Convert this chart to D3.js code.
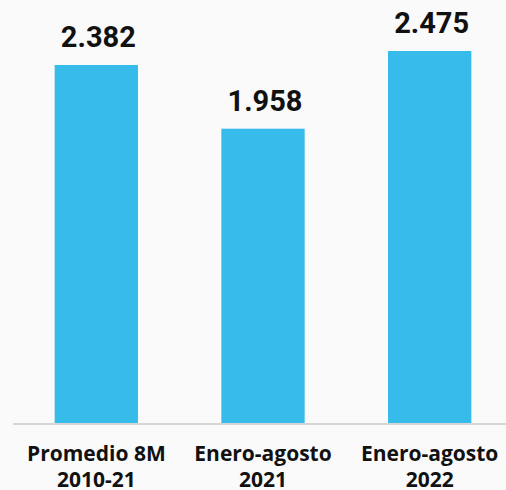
<!DOCTYPE html>
<html><head><meta charset="utf-8">
<script src="https://cdn.jsdelivr.net/npm/d3@7"></script>
<style>html,body{margin:0;padding:0;background:#fafafa;}svg{display:block;}</style>
</head><body>
<svg id="c" width="506" height="490"></svg>
<script>
const categories = [["Promedio 8M","2010-21"],["Enero-agosto","2021"],["Enero-agosto","2022"]];
const values = [2.382, 1.958, 2.475];
const valueLabels = ["2.382","1.958","2.475"];

const W = 506, H = 490;
const svg = d3.select("#c");
svg.append("rect").attr("width",W).attr("height",H).attr("fill","#fafafa");

const x = d3.scaleBand().domain(d3.range(values.length)).range([13, 513]).paddingInner(0.5).paddingOuter(0.25);
const y = d3.scaleLinear().domain([0, 2.475]).range([423, 51]);

svg.selectAll("rect.bar").data(values).join("rect").attr("class","bar")
  .attr("x",(d,i)=>x(i)).attr("width",x.bandwidth())
  .attr("y",d=>y(d)).attr("height",d=>y(0)-y(d)).attr("fill","#37bbeb");

svg.append("line").attr("x1",13).attr("x2",506).attr("y1",y(0)+1).attr("y2",y(0)+1)
  .attr("stroke","#d6d6d6").attr("stroke-width",2);

svg.selectAll("text.val").data(values).join("text").attr("class","val")
  .attr("x",(d,i)=>x(i)+x.bandwidth()/2+2).attr("y",d=>y(d)-18)
  .attr("text-anchor","middle").attr("font-family","Roboto, sans-serif").attr("font-weight","bold")
  .attr("font-size",29).attr("fill","#111").text((d,i)=>valueLabels[i]);

const g = svg.selectAll("text.cat").data(categories).join("text").attr("class","cat")
  .attr("text-anchor","middle").attr("font-family","'Open Sans', sans-serif").attr("font-weight","bold")
  .attr("font-size",21).attr("fill","#111");
g.each(function(d,i){
  const t = d3.select(this);
  d.forEach((line,j)=>{
    t.append("tspan").attr("x",x(i)+x.bandwidth()/2).attr("y",461+j*26).text(line);
  });
});
</script>
</body></html>
